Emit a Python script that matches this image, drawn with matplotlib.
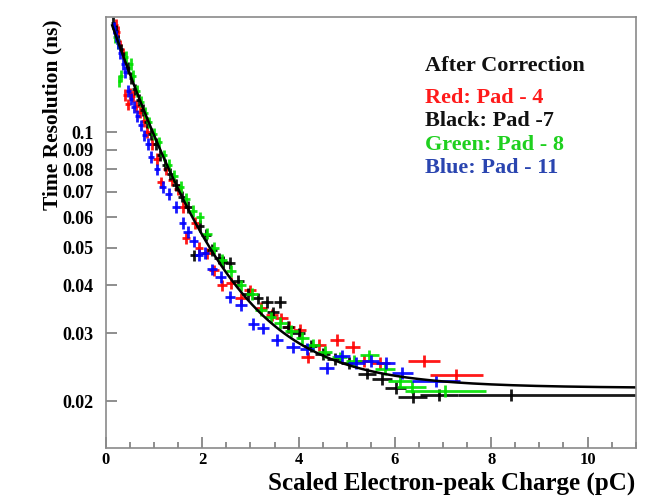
import numpy as np
import matplotlib
matplotlib.use("Agg")
import matplotlib.pyplot as plt
from matplotlib.ticker import FixedLocator, NullLocator

plt.rcParams['font.family'] = ['Liberation Serif', 'DejaVu Serif']
plt.rcParams['font.weight'] = 'bold'

# ---- measured time resolution per pad (x: charge in pC, y: resolution in ns) ----
red_x = [0.20, 0.26, 0.30, 0.35, 0.40, 0.45, 0.50, 0.56, 0.63, 0.70, 0.78, 0.86, 0.95, 1.05,
         1.14, 1.25, 1.37, 1.49, 1.60, 1.66, 1.85, 1.93, 2.10, 2.24, 2.41, 2.60, 2.80, 2.99,
         3.23, 3.45, 3.64, 3.80, 4.02, 4.19, 4.43, 4.80, 5.12, 5.36, 5.70, 6.60, 7.27]
red_y = [0.190, 0.182, 0.168, 0.160, 0.125, 0.118, 0.126, 0.124, 0.117, 0.113, 0.107, 0.100,
         0.093, 0.085, 0.074, 0.080, 0.075, 0.0710, 0.064, 0.053, 0.058, 0.050, 0.0484, 0.0437,
         0.040, 0.0405, 0.037, 0.0388, 0.0349, 0.0335, 0.0328, 0.0312, 0.0306, 0.026, 0.028,
         0.0288, 0.0277, 0.0255, 0.0252, 0.0254, 0.0234]
red_xerr = [0.04, 0.04, 0.04, 0.04, 0.04, 0.05, 0.05, 0.05, 0.05, 0.05, 0.06, 0.06, 0.06, 0.07,
            0.07, 0.07, 0.08, 0.08, 0.08, 0.08, 0.09, 0.09, 0.10, 0.10, 0.10, 0.11, 0.11, 0.12,
            0.12, 0.12, 0.13, 0.13, 0.13, 0.14, 0.14, 0.15, 0.16, 0.18, 0.20, 0.33, 0.55]

black_x = [0.15, 0.20, 0.26, 0.32, 0.38, 0.45, 0.52, 0.60, 0.68, 0.76, 0.85, 0.94, 1.03, 1.13,
           1.23, 1.34, 1.45, 1.57, 1.70, 1.83, 1.95, 2.08, 2.20, 2.35, 2.44, 2.58, 2.75, 2.95,
           3.15, 3.34, 3.47, 3.61, 3.78, 4.00, 4.25, 4.50, 4.75, 5.05, 5.42, 5.73, 6.02, 6.37,
           6.92, 8.42]
black_y = [0.192, 0.183, 0.173, 0.164, 0.156, 0.147, 0.138, 0.129, 0.121, 0.114, 0.106, 0.099,
           0.093, 0.087, 0.082, 0.078, 0.073, 0.068, 0.064, 0.0478, 0.057, 0.054, 0.0495, 0.047,
           0.046, 0.0457, 0.041, 0.038, 0.037, 0.0362, 0.034, 0.0362, 0.0312, 0.030, 0.0278,
           0.0265, 0.0258, 0.0252, 0.0236, 0.0229, 0.0217, 0.0205, 0.0208, 0.0208]
black_xerr_lo = [0.04, 0.04, 0.04, 0.04, 0.04, 0.05, 0.05, 0.05, 0.05, 0.05, 0.06, 0.06, 0.06,
                 0.07, 0.07, 0.07, 0.08, 0.08, 0.08, 0.09, 0.09, 0.10, 0.10, 0.10, 0.10, 0.11,
                 0.11, 0.12, 0.12, 0.12, 0.13, 0.13, 0.13, 0.14, 0.14, 0.15, 0.16, 0.17, 0.18,
                 0.20, 0.22, 0.30, 0.40, 1.10]
black_xerr_hi = [0.04, 0.04, 0.04, 0.04, 0.04, 0.05, 0.05, 0.05, 0.05, 0.05, 0.06, 0.06, 0.06,
                 0.07, 0.07, 0.07, 0.08, 0.08, 0.08, 0.09, 0.09, 0.10, 0.10, 0.10, 0.10, 0.11,
                 0.11, 0.12, 0.12, 0.12, 0.13, 0.13, 0.13, 0.14, 0.14, 0.15, 0.16, 0.17, 0.18,
                 0.20, 0.22, 0.30, 0.40, 2.60]

green_x = [0.18, 0.24, 0.28, 0.32, 0.42, 0.52, 0.57, 0.65, 0.73, 0.82, 0.90, 1.00, 1.10, 1.20,
           1.30, 1.42, 1.55, 1.67, 1.80, 1.95, 2.10, 2.25, 2.42, 2.60, 2.80, 3.03, 3.22, 3.42,
           3.62, 3.85, 4.08, 4.30, 4.55, 4.85, 5.15, 5.47, 5.80, 6.10, 6.35, 7.05]
green_y = [0.176, 0.170, 0.136, 0.140, 0.157, 0.150, 0.140, 0.128, 0.120, 0.112, 0.106, 0.099,
           0.094, 0.087, 0.082, 0.077, 0.072, 0.067, 0.0625, 0.060, 0.0545, 0.050, 0.0465, 0.0435,
           0.040, 0.038, 0.0345, 0.033, 0.032, 0.0305, 0.0292, 0.028, 0.0268, 0.026, 0.0255,
           0.0263, 0.0243, 0.0226, 0.0218, 0.0213]
green_xerr = [0.04, 0.04, 0.04, 0.04, 0.04, 0.05, 0.05, 0.05, 0.05, 0.06, 0.06, 0.06, 0.07, 0.07,
              0.07, 0.08, 0.08, 0.08, 0.09, 0.09, 0.10, 0.10, 0.10, 0.11, 0.11, 0.12, 0.12, 0.12,
              0.13, 0.13, 0.14, 0.14, 0.15, 0.16, 0.17, 0.19, 0.21, 0.25, 0.30, 0.85]

blue_x = [0.16, 0.21, 0.25, 0.30, 0.35, 0.40, 0.46, 0.52, 0.58, 0.65, 0.72, 0.80, 0.88, 0.94,
          1.06, 1.18, 1.30, 1.45, 1.59, 1.70, 1.82, 1.93, 2.05, 2.20, 2.38, 2.58, 2.80, 3.06,
          3.26, 3.55, 3.88, 4.17, 4.58, 4.90, 5.20, 5.50, 5.81, 6.15, 6.85]
blue_y = [0.186, 0.178, 0.170, 0.160, 0.150, 0.143, 0.128, 0.122, 0.116, 0.110, 0.104, 0.098,
          0.093, 0.086, 0.080, 0.072, 0.069, 0.064, 0.058, 0.055, 0.052, 0.048, 0.0485, 0.044,
          0.042, 0.0373, 0.0355, 0.0318, 0.0309, 0.0288, 0.0276, 0.0274, 0.0244, 0.0262, 0.0252,
          0.0255, 0.0252, 0.0237, 0.0225]
blue_xerr = [0.04, 0.04, 0.04, 0.04, 0.04, 0.04, 0.05, 0.05, 0.05, 0.05, 0.05, 0.06, 0.06, 0.06,
             0.07, 0.07, 0.07, 0.08, 0.08, 0.09, 0.09, 0.09, 0.10, 0.10, 0.11, 0.11, 0.12, 0.12,
             0.13, 0.13, 0.14, 0.14, 0.15, 0.16, 0.17, 0.18, 0.20, 0.22, 0.50]

# relative vertical uncertainty of each point
rel_yerr = 0.035

# fit: sigma(Q) = C + exp(p0 + p1*Q + p2*Q^2)
fit_p0, fit_p1, fit_p2, fit_c = -1.666, -0.929, 0.0238, 0.0216
fit_range = (0.13, 11.0)

legend_title = "After Correction"
legend_entries = ["Red: Pad - 4", "Black: Pad -7", "Green: Pad - 8", "Blue: Pad - 11"]
legend_colors = ["#ff1a1a", "#111111", "#1fd01f", "#2a45b0"]

x_ticks = [0, 2, 4, 6, 8, 10]
y_ticks = [0.02, 0.03, 0.04, 0.05, 0.06, 0.07, 0.08, 0.09, 0.1]
y_tick_labels = ["0.02", "0.03", "0.04", "0.05", "0.06", "0.07", "0.08", "0.09", "0.1"]

fig = plt.figure(figsize=(6.54, 4.98), dpi=100)
ax = fig.add_axes([0.162, 0.100, 0.810, 0.866])
ax.set_yscale('log')
ax.set_xlim(0, 11)
ax.set_ylim(0.0151, 0.199)

series = [
    (red_x, red_y, [red_xerr, red_xerr], "#ff0000"),
    (black_x, black_y, [black_xerr_lo, black_xerr_hi], "#000000"),
    (green_x, green_y, [green_xerr, green_xerr], "#00e000"),
    (blue_x, blue_y, [blue_xerr, blue_xerr], "#0000ff"),
]
for xs, ys, xe, col in series:
    ys = np.asarray(ys)
    ax.errorbar(xs, ys, xerr=np.asarray(xe), yerr=ys * rel_yerr, fmt='none',
                ecolor=col, elinewidth=2.0, capsize=0, alpha=0.9)

q = np.linspace(fit_range[0], fit_range[1], 400)
ax.plot(q, fit_c + np.exp(fit_p0 + fit_p1 * q + fit_p2 * q * q), color='black', lw=1.8)

# axes styling
for side in ['left', 'bottom', 'top', 'right']:
    ax.spines[side].set_color('#8a8a8a')
    ax.spines[side].set_linewidth(1.2)

ax.xaxis.set_major_locator(FixedLocator(x_ticks))
ax.xaxis.set_minor_locator(FixedLocator(np.arange(0, 11.01, 0.5)))
ax.yaxis.set_major_locator(FixedLocator(y_ticks))
ax.yaxis.set_minor_locator(NullLocator())
ax.set_yticklabels(y_tick_labels)
ax.tick_params(axis='both', which='major', direction='in', length=8, width=1.1,
               color='#707070', top=False, right=False)
ax.tick_params(axis='y', labelsize=13, pad=9)
ax.tick_params(axis='x', labelsize=12, pad=3)
ax.tick_params(axis='x', which='minor', direction='in', length=4, width=1.1,
               color='#707070', top=False)
for lab in ax.get_xticklabels() + ax.get_yticklabels():
    lab.set_fontweight('bold')

ax.set_xlabel("Scaled Electron-peak Charge (pC)", fontsize=18, fontweight='bold',
              ha='right', va='top')
ax.xaxis.set_label_coords(1.0, -0.055)
ax.set_ylabel("Time Resolution (ns)", fontsize=15.5, fontweight='bold')
ax.yaxis.set_label_coords(-0.082, 0.773)

ax.text(0.602, 0.886, legend_title, transform=ax.transAxes, fontsize=16,
        fontweight='bold', color='#111111', va='center', ha='left')
for i, (txt, col) in enumerate(zip(legend_entries, legend_colors)):
    ax.text(0.602, 0.812 - i * 0.0543, txt, transform=ax.transAxes, fontsize=16,
            fontweight='bold', color=col, va='center', ha='left')

fig.savefig("out.png", dpi=100)
